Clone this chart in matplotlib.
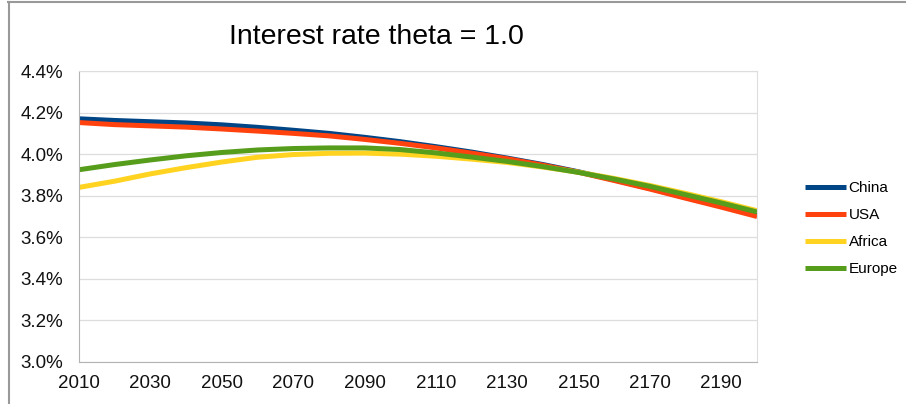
import matplotlib
matplotlib.use('Agg')
import matplotlib.pyplot as plt
from matplotlib.lines import Line2D
from matplotlib.ticker import FuncFormatter

plt.rcParams['font.family'] = ['Liberation Sans', 'DejaVu Sans']

# data (percent)
years = [2010, 2020, 2030, 2040, 2050, 2060, 2070, 2080, 2090, 2100,
         2110, 2120, 2130, 2140, 2150, 2160, 2170, 2180, 2190, 2200]
china = [4.170, 4.162, 4.156, 4.150, 4.141, 4.129, 4.115, 4.100, 4.081, 4.060,
         4.036, 4.010, 3.981, 3.950, 3.915, 3.876, 3.835, 3.791, 3.750, 3.706]
usa = [4.152, 4.142, 4.136, 4.130, 4.121, 4.111, 4.100, 4.088, 4.071, 4.052,
       4.030, 4.005, 3.978, 3.947, 3.913, 3.873, 3.832, 3.788, 3.745, 3.700]
africa = [3.840, 3.870, 3.905, 3.935, 3.962, 3.985, 3.998, 4.004, 4.005, 4.000,
          3.990, 3.976, 3.960, 3.938, 3.913, 3.883, 3.849, 3.811, 3.771, 3.728]
europe = [3.925, 3.950, 3.972, 3.992, 4.008, 4.020, 4.027, 4.030, 4.030, 4.022,
          4.006, 3.986, 3.965, 3.940, 3.912, 3.880, 3.845, 3.805, 3.765, 3.722]

series = [("China", china, "#004586"),
          ("USA", usa, "#ff420e"),
          ("Africa", africa, "#ffd320"),
          ("Europe", europe, "#579d1c")]

xticks = [2010, 2030, 2050, 2070, 2090, 2110, 2130, 2150, 2170, 2190]
yticks = [3.0, 3.2, 3.4, 3.6, 3.8, 4.0, 4.2, 4.4]

fig = plt.figure(figsize=(9.06, 4.04), dpi=100)
ax = fig.add_axes([79 / 906, 1 - 362 / 404, (757 - 79) / 906, (362 - 71) / 404])

for name, vals, col in series:
    ax.plot(years, vals, color=col, lw=3.6, label=name, solid_capstyle='butt')

ax.set_xlim(2010, 2200)
ax.set_ylim(3.0, 4.4)
ax.set_xticks(xticks)
ax.set_yticks(yticks)
ax.yaxis.set_major_formatter(FuncFormatter(lambda v, p: "%.1f%%" % v))
ax.tick_params(length=0, labelsize=13.5, colors='#111111')
ax.tick_params(axis='y', pad=11.5)
ax.tick_params(axis='x', pad=9.5)
ax.grid(axis='y', color='#dddddd', lw=0.9)
ax.set_axisbelow(True)
for s in ['left', 'bottom']:
    ax.spines[s].set_color('#b3b3b3')
for s in ['top', 'right']:
    ax.spines[s].set_color('#dddddd')

fig.text(376 / 906, 1 - 37 / 404, "Interest rate theta = 1.0", fontsize=20.5,
         ha='center', va='center')

ax.legend(loc='center left', bbox_to_anchor=(805 / 906, 1 - 228.5 / 404),
          bbox_transform=fig.transFigure, frameon=False, borderpad=0,
          borderaxespad=0, handlelength=2.7, handletextpad=0.15,
          labelspacing=0.85, fontsize=11)

# outer frame of the original screenshot
fig.add_artist(Line2D([8 / 906, 1], [1 - 1.5 / 404, 1 - 1.5 / 404],
                      transform=fig.transFigure, color='#999999', lw=1.5))
fig.add_artist(Line2D([8.5 / 906, 8.5 / 906], [0, 1 - 1.5 / 404],
                      transform=fig.transFigure, color='#999999', lw=1.5))

fig.savefig("out.png", dpi=100)
